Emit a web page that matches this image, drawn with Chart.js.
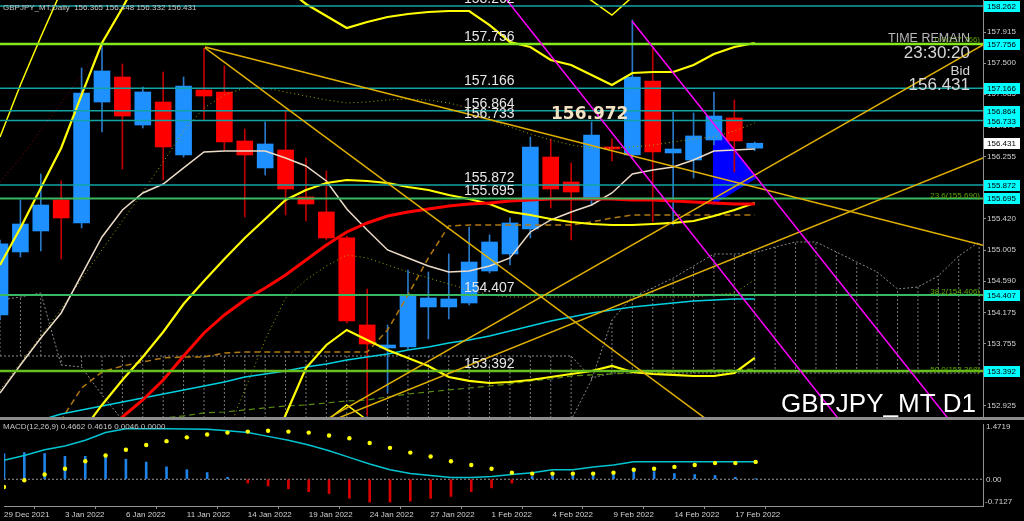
<!DOCTYPE html>
<html><head><meta charset="utf-8">
<script src="https://cdn.jsdelivr.net/npm/chart.js@4.4.1/dist/chart.umd.min.js"></script>
<style>
html,body{margin:0;padding:0;background:#000;overflow:hidden;}
#wrap{position:relative;width:1024px;height:521px;background:#000;}
#c1{position:absolute;left:0;top:0;}
#c2{position:absolute;left:0;top:420px;}
#sep{position:absolute;left:0;top:417px;width:1024px;height:3px;background:#8c8c8c;}
</style></head><body>
<div id="wrap">
<canvas id="c1" width="1024" height="417"></canvas>
<div id="sep"></div>
<canvas id="c2" width="1024" height="101"></canvas>
</div>
<script>
// ---------- DATA ----------
const DATES = ['29 Dec 2021','30 Dec 2021','31 Dec 2021','3 Jan 2022','4 Jan 2022','5 Jan 2022','6 Jan 2022','7 Jan 2022','10 Jan 2022','11 Jan 2022','12 Jan 2022','13 Jan 2022','14 Jan 2022','17 Jan 2022','18 Jan 2022','19 Jan 2022','20 Jan 2022','21 Jan 2022','24 Jan 2022','25 Jan 2022','26 Jan 2022','27 Jan 2022','28 Jan 2022','31 Jan 2022','1 Feb 2022','2 Feb 2022','3 Feb 2022','4 Feb 2022','7 Feb 2022','8 Feb 2022','9 Feb 2022','10 Feb 2022','11 Feb 2022','14 Feb 2022','15 Feb 2022','16 Feb 2022','17 Feb 2022','18 Feb 2022'];
const DATE_TICKS = [0,3,6,9,12,15,18,21,24,27,30,33,36];

const OPEN  = [154.139,154.980,155.260,155.674,155.367,156.981,157.315,156.674,156.981,156.274,157.141,157.115,156.461,156.101,156.341,155.714,155.514,155.167,154.006,153.699,153.712,154.246,154.246,154.299,154.726,154.953,155.287,156.247,155.914,155.674,156.381,156.274,157.261,156.301,156.207,156.474,156.768,156.365];
const HIGH  = [155.140,155.674,156.021,155.927,157.435,157.768,157.488,157.181,157.381,157.315,157.702,157.462,156.621,156.714,156.874,156.234,156.061,155.193,154.486,154.006,154.740,154.713,154.953,155.313,155.207,155.434,156.514,156.488,156.167,156.714,156.488,158.075,157.702,156.848,156.835,157.115,157.008,156.448];
const LOW   = [154.073,154.913,154.993,154.887,155.300,156.581,156.087,156.634,155.941,156.247,156.741,156.341,155.447,156.007,155.474,155.394,155.140,154.033,152.800,153.099,153.686,153.819,154.086,154.273,154.700,154.806,155.167,155.567,155.140,155.607,156.194,156.234,155.380,155.340,155.967,156.408,156.047,156.332];
const CLOSE = [155.087,155.353,155.607,155.434,157.101,157.395,156.794,157.115,156.381,157.195,157.061,156.448,156.274,156.421,155.820,155.620,155.167,154.059,153.752,153.739,154.406,154.366,154.353,154.846,155.113,155.367,156.381,155.820,155.780,156.541,156.354,157.315,156.314,156.354,156.528,156.794,156.461,156.431];

const MA_FAST = [153.099,153.472,153.832,154.166,154.673,155.180,155.540,155.767,155.887,156.101,156.314,156.327,156.327,156.327,156.234,156.127,155.927,155.554,155.273,155.007,154.900,154.793,154.713,154.726,154.793,154.900,155.247,155.407,155.514,155.607,155.767,156.021,156.074,156.114,156.207,156.327,156.341,156.354];
const MA_RED  = [151.418,151.644,151.871,152.098,152.325,152.552,152.778,153.005,153.272,153.592,153.899,154.139,154.339,154.500,154.673,154.873,155.073,155.247,155.367,155.460,155.514,155.554,155.594,155.620,155.634,155.660,155.674,155.687,155.687,155.687,155.687,155.674,155.674,155.660,155.647,155.634,155.620,155.620];
const MA_CYAN = [152.658,152.698,152.738,152.818,152.872,152.925,152.978,153.032,153.085,153.139,153.192,153.245,153.312,153.352,153.392,153.445,153.485,153.539,153.579,153.619,153.672,153.712,153.766,153.806,153.859,153.926,153.992,154.059,154.113,154.166,154.206,154.246,154.273,154.299,154.326,154.339,154.353,154.353];
const BB_UP   = [154.806,155.300,155.834,156.367,157.075,157.768,158.235,158.742,159.076,159.276,159.343,159.276,159.076,158.809,158.502,158.289,158.129,157.968,158.049,158.115,158.155,158.182,158.195,158.195,158.008,157.782,157.715,157.542,157.475,157.341,157.208,157.368,157.381,157.381,157.475,157.622,157.715,157.768];
const BB_MID  = [151.404,151.738,152.071,152.338,152.578,152.939,153.272,153.579,153.912,154.286,154.593,154.886,155.167,155.420,155.674,155.807,155.900,155.940,155.927,155.900,155.847,155.807,155.740,155.687,155.620,155.514,155.473,155.420,155.380,155.353,155.340,155.340,155.353,155.367,155.393,155.460,155.540,155.634];
const BB_LOW  = [148.002,148.175,148.269,148.309,148.082,148.109,148.309,148.416,148.749,149.296,149.843,150.497,151.257,152.071,152.805,153.432,153.739,153.939,153.806,153.672,153.566,153.459,153.312,153.259,153.232,153.245,153.272,153.312,153.352,153.392,153.459,153.379,153.352,153.339,153.325,153.325,153.365,153.566];
const BB3_UP  = [156.514,157.208,157.848,158.462,159.409,160.183,160.717,161.317,161.624,161.771,161.718,161.464,161.024,160.503,159.916,159.529,159.236,158.982,159.116,159.223,159.316,159.369,159.423,159.436,159.209,158.916,158.836,158.609,158.515,158.335,158.142,158.382,158.395,158.409,158.515,158.702,158.809,158.836];
const BB3_LOW = [143.000,143.300,143.500,143.700,143.400,143.500,143.800,144.000,144.300,145.000,145.600,146.300,147.300,150.400,151.378,152.245,152.725,152.939,152.738,152.565,152.418,152.285,152.071,151.951,152.045,152.111,152.178,152.258,152.338,152.418,152.512,152.392,152.352,152.325,152.285,152.258,152.285,152.525];
const DOT_HI  = [153.139,153.499,153.859,154.219,154.620,155.007,155.393,155.780,156.181,156.594,156.901,157.075,157.168,157.168,157.115,157.061,157.008,156.968,156.981,157.008,157.021,157.008,156.968,156.901,156.741,156.648,156.554,156.474,156.407,156.367,156.367,156.381,156.407,156.447,156.488,156.514,156.594,156.701];
const DOT_LO  = [148.999,149.269,149.536,149.803,150.070,150.337,150.604,150.870,151.271,151.671,152.071,152.471,153.139,153.806,154.366,154.606,154.793,154.940,154.900,154.806,154.713,154.633,154.553,154.473,154.406,154.379,154.379,154.379,154.379,154.379,154.379,154.379,154.379,154.379,154.379,154.406,154.433,154.606];
const DOT_RED = [155.914,156.234,156.608,156.968,157.341,157.715];
const KIJUN   = [152.071,152.205,152.338,152.738,153.165,153.379,153.459,153.512,153.566,153.579,153.579,153.632,153.646,153.646,153.646,153.646,153.646,153.646,153.646,153.939,154.406,154.900,155.327,155.340,155.340,155.340,155.340,155.340,155.340,155.380,155.433,155.473,155.473,155.473,155.473,155.473,155.473,155.473];
const GREEN_DASH = [152.578,152.605,152.632,152.658,152.685,152.712,152.738,152.752,152.765,152.792,152.832,152.845,152.872,152.899,152.925,152.939,152.965,152.992,153.005,153.045,153.085,153.112,153.139,153.165,153.192,153.219,153.259,153.285,153.325,153.339,153.352,153.365,153.365,153.379,153.392,153.405,153.405,153.419];
const SPAN_A = [153.592,153.592,153.592,153.592,153.592,153.592,153.592,153.592,153.592,153.592,153.592,153.592,153.592,153.592,153.592,153.592,153.592,153.592,153.592,153.592,153.592,153.592,153.592,153.592,153.592,153.592,153.592,153.592,153.592,153.299,153.365,153.365,153.365,153.365,153.365,153.365,153.365,153.365,153.365,153.365,153.365,153.365,153.365,153.365,153.365,153.365,153.365,153.365,153.365];
const SPAN_B = [154.339,154.379,154.433,153.472,153.445,153.072,152.738,152.471,152.471,152.471,152.471,152.471,152.471,152.471,152.471,152.471,152.471,152.471,152.471,152.471,152.471,152.471,152.471,152.471,152.471,152.471,152.471,152.471,152.738,153.272,154.073,154.379,154.500,154.633,154.793,154.953,154.953,154.966,155.047,155.113,155.113,154.980,154.846,154.713,154.486,154.513,154.660,154.926,155.113];

const LEVELS_TEAL = [158.262,157.166,156.864,156.733,155.872];
const LEVEL_LIME = 157.756;
const LEVELS_GREEN = [155.695,154.407];
const LEVEL_GREEN_THICK = 153.392;
const LEVEL_LABELS = [158.262,157.756,157.166,156.864,156.733,155.872,155.695,154.407,153.392];
const FIB_LEVELS = [157.766,155.690,154.406,153.368];
const FIB_NAMES = ['0.0','23.6','38.2','50.0'];
const BID = 156.431;
const TEXT_PRICE = 156.972;

const TREND_X = [[10.05,48.19],[10.05,36.27],[14.71,48.19],[14.71,48.19]];
const TREND_Y = [[157.715,155.068],[157.702,152.418],[152.558,156.234],[152.545,157.742]];
const CHAN_X = [[24.26,41.42],[30.98,46.81]];
const CHAN_Y = [[158.542,152.645],[158.062,152.645]];
const TRI_X = [34.95,37.1];
const TRI_TOP = [156.701,155.967];
const TRI_BOT = [155.607,155.967];

const PRICE_TICKS = [157.915,157.500,157.085,156.670,156.255,155.840,155.420,155.005,154.590,154.175,153.755,153.340,152.925];

const MACD_MAIN = [0.507,0.634,0.786,0.888,1.040,1.243,1.345,1.345,1.345,1.340,1.335,1.294,1.243,1.142,1.040,0.913,0.761,0.583,0.405,0.253,0.151,0.100,0.049,0.049,0.075,0.125,0.176,0.253,0.253,0.329,0.380,0.466,0.466,0.466,0.466,0.466,0.466,0.4662];
const MACD_SIGNAL = [-0.205,-0.027,0.126,0.278,0.481,0.634,0.786,0.913,1.015,1.116,1.193,1.243,1.269,1.294,1.269,1.243,1.167,1.091,0.964,0.837,0.710,0.608,0.481,0.380,0.278,0.176,0.151,0.151,0.151,0.151,0.176,0.253,0.278,0.329,0.380,0.430,0.430,0.4616];
const MACD_HIST = [0.686,0.711,0.686,0.610,0.610,0.635,0.533,0.457,0.330,0.254,0.178,0.051,-0.102,-0.178,-0.254,-0.330,-0.381,-0.508,-0.610,-0.610,-0.584,-0.508,-0.457,-0.330,-0.229,-0.102,0.076,0.127,0.127,0.178,0.178,0.279,0.203,0.152,0.127,0.102,0.051,0.0046];
const MACD_TICKS = [1.4719,0,-0.7127];

// ---------- SETUP ----------
const X_MAX = 48.19;
const FONT = '"Liberation Sans", Arial, sans-serif';
const UP = '#1e90ff', DN = '#ff0000';

const pts = arr => arr.map((v,i)=>({x:i,y:v}));
const line = (data, color, width, extra) => Object.assign({type:'line', data, borderColor:color, borderWidth:width, pointRadius:0, tension:0, fill:false, clip:0, spanGaps:false}, extra||{});
const seg = (xs, ys) => xs.map((x,i)=>({x, y:ys[i]}));
const hline = v => [{x:0,y:v},{x:X_MAX,y:v}];

const hatch = [];
for (let i=0;i<SPAN_A.length;i++){ hatch.push({x:i,y:SPAN_A[i]},{x:i,y:SPAN_B[i]},{x:i,y:null}); }

const bull = CLOSE.map((c,i)=>c>=OPEN[i]);

const datasets = [
  line(hatch,'#7a7a7a',1,{borderDash:[2,2],order:100}),
  line(pts(SPAN_A),'#8a8a8a',1,{borderDash:[2,2],order:99}),
  line(pts(SPAN_B),'#8a8a8a',1,{borderDash:[2,2],order:99}),
  line(seg(TRI_X,TRI_TOP),'#0000ff',0,{order:95}),
  line(seg(TRI_X,TRI_BOT),'#0000ff',0,{order:95, fill:'-1', backgroundColor:'#0000ff'}),
  {type:'bar', data: LOW.map((l,i)=>({x:i,y:[l,HIGH[i]]})), backgroundColor: bull.map(b=>b?'#2a78c8':'#c00000'), barThickness:1, grouped:false, borderWidth:0, order:60, clip:0},
  {type:'bar', data: OPEN.map((o,i)=>({x:i,y:[o,CLOSE[i]]})), backgroundColor: bull.map(b=>b?UP:DN), barThickness:16, grouped:false, borderWidth:0, minBarLength:2, order:59, clip:0},
  line(pts(GREEN_DASH),'#5a8c10',1.2,{borderDash:[6,4],order:45}),
  line(pts(KIJUN),'#b07810',1.5,{borderDash:[6,4],order:44}),
  line(pts(DOT_LO),'#a8a800',1,{borderDash:[1,3],order:43}),
  line(pts(DOT_HI),'#a8a800',1,{borderDash:[1,3],order:43}),
  line(pts(DOT_RED),'#900000',1,{borderDash:[1,3],order:43}),
  line(pts(MA_CYAN),'#00d0e0',1.5,{order:36}),
  line(pts(MA_FAST),'#ecdcc8',1.5,{order:35}),
  line(pts(BB3_UP),'#ffff00',1.5,{order:31}),
  line(pts(BB3_LOW),'#ffff00',1.5,{order:31}),
  line(pts(BB_UP),'#ffff00',2.2,{order:30}),
  line(pts(BB_MID),'#ffff00',2.2,{order:30}),
  line(pts(BB_LOW),'#ffff00',2.2,{order:30}),
  line(pts(MA_RED),'#ff0000',3,{order:29}),
];
LEVELS_TEAL.forEach(v=>datasets.push(line(hline(v),'#12a4a4',1.5,{order:20})));
datasets.push(line(hline(LEVEL_LIME),'#84e81c',2.5,{order:19}));
LEVELS_GREEN.forEach(v=>datasets.push(line(hline(v),'#38b860',2,{order:19})));
datasets.push(line(hline(LEVEL_GREEN_THICK),'#68c020',2.6,{order:19}));
TREND_X.forEach((xs,k)=>datasets.push(line(seg(xs,TREND_Y[k]),'#e0b000',1.5,{order:15})));
CHAN_X.forEach((xs,k)=>datasets.push(line(seg(xs,CHAN_Y[k]),'#ff00ff',1.5,{order:14})));

const overlay = {
  id:'overlay',
  afterDraw(chart){
    const ctx = chart.ctx, y = chart.scales.y;
    ctx.save();
    ctx.textBaseline='alphabetic';
    ctx.textAlign='left';
    ctx.fillStyle='#c4c4c4';
    ctx.font='8px '+FONT;
    ctx.fillText('GBPJPY_MT,Daily  '+OPEN[37].toFixed(3)+' '+HIGH[37].toFixed(3)+' '+LOW[37].toFixed(3)+' '+CLOSE[37].toFixed(3), 3, 10);
    ctx.font='14px '+FONT;
    ctx.fillStyle='#e6e6e6';
    LEVEL_LABELS.forEach(v=>ctx.fillText(v.toFixed(3), 464, Math.round(y.getPixelForValue(v))-3));
    ctx.font='bold 17px "DejaVu Sans", sans-serif';
    ctx.fillStyle='#f2e2c4';
    ctx.fillText(TEXT_PRICE.toFixed(3), 551, Math.round(y.getPixelForValue(TEXT_PRICE))+16);
    ctx.font='8px '+FONT;
    ctx.fillStyle='#5fa800';
    ctx.textAlign='right';
    FIB_LEVELS.forEach((v,k)=>ctx.fillText(FIB_NAMES[k]+'('+v.toFixed(3)+')', 980, Math.round(y.getPixelForValue(v))-1));
    ctx.fillStyle='#b8b8b8';
    ctx.font='12.5px '+FONT;
    ctx.fillText('TIME REMAIN', 970, 42);
    ctx.fillStyle='#d6d6d6';
    ctx.font='17px '+FONT;
    ctx.fillText('23:30:20', 970, 58);
    ctx.font='13.5px '+FONT;
    ctx.fillText('Bid', 970, 75);
    ctx.font='17px '+FONT;
    ctx.fillText(BID.toFixed(3), 970, 90);
    ctx.fillStyle='#ffffff';
    ctx.font='26px '+FONT;
    ctx.fillText('GBPJPY_MT D1', 976, 412);
    ctx.textAlign='left';
    ctx.font='8px '+FONT;
    LEVEL_LABELS.forEach(v=>{
      const py = Math.round(y.getPixelForValue(v));
      ctx.fillStyle='#00ffff'; ctx.fillRect(984, py-5, 36, 11);
      ctx.fillStyle='#000000'; ctx.fillText(v.toFixed(3), 987, py+3);
    });
    const pb = Math.round(y.getPixelForValue(BID));
    ctx.fillStyle='#ffffff'; ctx.fillRect(984, pb-5, 36, 11);
    ctx.fillStyle='#000000'; ctx.fillText(BID.toFixed(3), 987, pb+3);
    ctx.restore();
  }
};

new Chart(document.getElementById('c1'), {
  type:'line',
  data:{datasets},
  plugins:[overlay],
  options:{
    responsive:false, animation:false, devicePixelRatio:1,
    layout:{padding:0},
    plugins:{legend:{display:false}, tooltip:{enabled:false}},
    scales:{
      x:{type:'linear', min:0, max:X_MAX, display:false, offset:false},
      y:{type:'linear', position:'right', min:152.778, max:158.342,
         afterBuildTicks: s => { s.ticks = PRICE_TICKS.map(v=>({value:v})); },
         afterFit: s => { s.width = 41; s.paddingTop = 0; s.paddingBottom = 0; },
         ticks:{color:'#d0d0d0', font:{family:FONT, size:8}, padding:1, autoSkip:false, callback:v=>Number(v).toFixed(3)},
         grid:{drawOnChartArea:false, color:'#909090', tickLength:3},
         border:{color:'#909090'}}
    }
  }
});

const macdOverlay = {
  id:'macdOverlay',
  afterDraw(chart){
    const ctx = chart.ctx;
    ctx.save();
    ctx.font='8px '+FONT;
    ctx.fillStyle='#c4c4c4';
    ctx.textAlign='left';
    ctx.textBaseline='alphabetic';
    const n = MACD_MAIN.length-1;
    ctx.fillText('MACD(12,26,9) '+MACD_MAIN[n].toFixed(4)+' '+MACD_SIGNAL[n].toFixed(4)+' '+MACD_HIST[n].toFixed(4)+' 0.0000', 3, 9);
    ctx.fillStyle='#d0d0d0';
    ctx.fillText(MACD_TICKS[0].toFixed(4), 986, 9);
    ctx.fillText(MACD_TICKS[1].toFixed(2), 986, Math.round(chart.scales.y.getPixelForValue(0))+3);
    ctx.fillText(MACD_TICKS[2].toFixed(4), 985, 84);
    ctx.restore();
  }
};

new Chart(document.getElementById('c2'), {
  type:'line',
  data:{datasets:[
    line(hline(0),'#9a9a9a',1,{borderDash:[2,2],order:10}),
    {type:'bar', data: pts(MACD_HIST).map(p=>({x:p.x,y:[0,p.y]})), backgroundColor: MACD_HIST.map(v=>v>=0?'#1e82e6':'#d80000'), barThickness:2, grouped:false, borderWidth:0, order:5, clip:0},
    line(pts(MACD_MAIN),'#00c4d0',1.5,{order:3}),
    {type:'line', data: pts(MACD_SIGNAL), showLine:false, pointRadius:2.2, pointBackgroundColor:'#ffff00', pointBorderWidth:0, order:1, clip:0}
  ]},
  plugins:[macdOverlay],
  options:{
    responsive:false, animation:false, devicePixelRatio:1,
    layout:{padding:0},
    plugins:{legend:{display:false}, tooltip:{enabled:false}},
    scales:{
      x:{type:'linear', min:0, max:X_MAX, position:'bottom', offset:false,
         afterBuildTicks: s => { s.ticks = DATE_TICKS.map(v=>({value:v})); },
         afterFit: s => { s.height = 15; s.paddingLeft = 0; s.paddingRight = 0; },
         ticks:{autoSkip:false, maxRotation:0, minRotation:0, align:'start', labelOffset:0, padding:1, color:'#d0d0d0', font:{family:FONT, size:8}, callback:(v)=>DATES[Math.round(v)]},
         grid:{drawOnChartArea:false, color:'#909090', tickLength:3},
         border:{color:'#909090'}},
      y:{type:'linear', position:'right', min:-0.7127, max:1.4719,
         afterFit: s => { s.width = 41; s.paddingTop = 0; s.paddingBottom = 0; },
         ticks:{display:false},
         grid:{drawOnChartArea:false, drawTicks:false, color:'#909090'},
         border:{color:'#909090'}}
    }
  }
});
</script>
</body></html>
